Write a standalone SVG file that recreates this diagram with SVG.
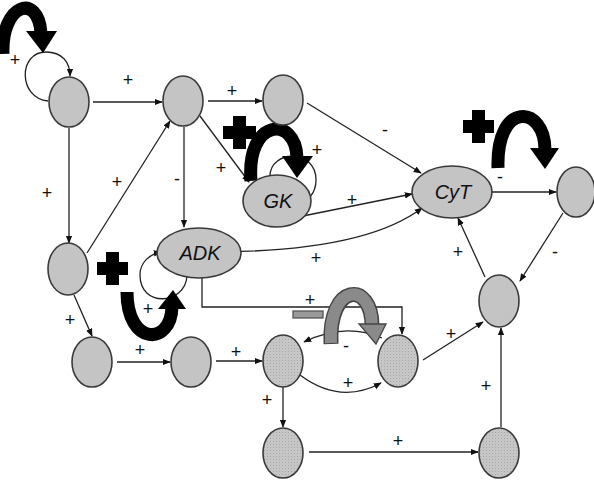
<svg xmlns="http://www.w3.org/2000/svg" width="594" height="489" viewBox="0 0 594 489">
<defs>
<marker id="ah" viewBox="0 0 10 10" refX="9" refY="5" markerWidth="8" markerHeight="8" markerUnits="userSpaceOnUse" orient="auto">
<path d="M0,1 L10,5 L0,9 z" fill="#111"/>
</marker>
<pattern id="dots" width="3" height="3" patternUnits="userSpaceOnUse">
<rect width="3" height="3" fill="#c6c6c6"/>
<rect width="1" height="1" fill="#a8a8a8"/>
</pattern>
</defs>
<style>
.n{fill:#c4c4c4;stroke:#3a3a3a;stroke-width:1.6}
.h{fill:url(#dots);stroke:#3a3a3a;stroke-width:1.6}
.c{fill:none;stroke:#222;stroke-width:1.3;marker-end:url(#ah)}
.s{font-family:"Liberation Sans",Arial,sans-serif;font-size:18px;fill:#111;text-anchor:middle}
.lab{font-family:"Liberation Sans",Arial,sans-serif;font-size:20px;font-style:italic;fill:#111;text-anchor:middle}
.big{fill:none;stroke:#000;stroke-width:13}
</style>
<g id="connectors">
<path class="c" d="M93,102 L162,102"/>
<path class="c" d="M208,101 L262,101"/>
<path class="c" d="M69,128 L69,243"/>
<path class="c" d="M87,253 L170,121"/>
<path class="c" d="M184,127 L184,227"/>
<path class="c" d="M200,116 L249,182"/>
<path class="c" d="M307,103 L421,173"/>
<path class="c" d="M288,219 L412,194"/>
<path class="c" d="M210,252 C300,252 380,240 422,208"/>
<path class="c" d="M466,192 L556,192"/>
<path class="c" d="M563,213 L520,281"/>
<path class="c" d="M485,277 L458,218"/>
<path class="c" d="M74,295 L92,336"/>
<path class="c" d="M117,362 L170,362"/>
<path class="c" d="M216,361 L262,361"/>
<path class="c" d="M202,270 L202,307 L402,307 L402,334"/>
<path class="c" d="M382,338 Q345,322 304,342"/>
<path class="c" d="M300,375 Q340,405 381,383"/>
<path class="c" d="M283,387 L283,427"/>
<path class="c" d="M309,452 L478,452"/>
<path class="c" d="M501,427 L501,328"/>
<path class="c" d="M423,360 L483,322"/>
<path class="c" d="M48,101 C18,98 18,52 46,52 C62,52 70,62 70,76"/>
<path class="c" d="M270,176 C270,150 316,148 316,180 C316,195 306,202 295,205"/>
<path class="c" d="M187,276 C185,305 140,308 140,275 C140,262 150,254 161,252"/>
</g>
<g id="modulators">
<path class="big" d="M3,54 C1,4 38,-8 41,33"/>
<polygon points="26,31 57,31 43,53" fill="#000"/>
<path class="big" d="M251,181 C246,118 296,115 297,158"/>
<polygon points="282,156 313,156 297,178" fill="#000"/>
<path class="big" d="M498,168 C496,100 545,105 545,150"/>
<polygon points="530,148 559,148 545,169" fill="#000"/>
<path class="big" d="M127,292 C127,346 171,346 172,307"/>
<polygon points="158,309 186,309 173,290" fill="#000"/>
<path d="M233,116 h13 v10 h10 v13 h-10 v10 h-13 v-10 h-10 v-13 h10 z" fill="#000"/>
<path d="M472,110 h13 v10 h9 v13 h-9 v10 h-13 v-10 h-9 v-13 h9 z" fill="#000"/>
<path d="M106,252 h13 v10 h9 v13 h-9 v10 h-13 v-10 h-9 v-13 h9 z" fill="#000"/>
<path d="M331,344 C328,283 372,280 372,326" fill="none" stroke="#444" stroke-width="15"/>
<path d="M331,343 C328,283 372,280 372,326" fill="none" stroke="#8a8a8a" stroke-width="12"/>
<polygon points="359,324 386,324 376,344" fill="#8a8a8a" stroke="#444" stroke-width="1.3"/>
<rect x="293" y="311" width="30" height="7" fill="#9a9a9a" stroke="#555" stroke-width="1.3"/>
</g>
<g id="n1"><ellipse class="n" cx="69" cy="102" rx="20" ry="25"/></g>
<g id="n2"><ellipse class="n" cx="183" cy="101" rx="20" ry="25"/></g>
<g id="n3"><ellipse class="n" cx="283" cy="100" rx="20" ry="25"/></g>
<g id="gk"><ellipse class="n" cx="277" cy="201" rx="34" ry="26"/><text class="lab" x="278" y="208">GK</text></g>
<g id="cyt"><ellipse class="n" cx="452" cy="192" rx="40" ry="26"/><text class="lab" x="453" y="199">CyT</text></g>
<g id="nr"><ellipse class="n" cx="576" cy="192" rx="19" ry="25"/></g>
<g id="nl2"><ellipse class="n" cx="68" cy="269" rx="20" ry="26"/></g>
<g id="adk"><ellipse class="n" cx="199" cy="253" rx="42" ry="25"/><text class="lab" x="200" y="260">ADK</text></g>
<g id="na"><ellipse class="n" cx="92" cy="362" rx="20" ry="25"/></g>
<g id="nb"><ellipse class="n" cx="191" cy="362" rx="20" ry="25"/></g>
<g id="nc"><ellipse class="h" cx="283" cy="361" rx="20" ry="26"/></g>
<g id="nd"><ellipse class="h" cx="398" cy="361" rx="20" ry="26"/></g>
<g id="ne"><ellipse class="n" cx="499" cy="301" rx="20" ry="26"/></g>
<g id="nf"><ellipse class="h" cx="283" cy="453" rx="20" ry="25"/></g>
<g id="ng"><ellipse class="h" cx="499" cy="453" rx="20" ry="25"/></g>
<g id="signs">
<text class="s" x="15" y="66">+</text>
<text class="s" x="128" y="86">+</text>
<text class="s" x="232" y="97">+</text>
<text class="s" x="47" y="199">+</text>
<text class="s" x="117" y="188">+</text>
<text class="s" x="177" y="185">-</text>
<text class="s" x="221" y="174">+</text>
<text class="s" x="317" y="156">+</text>
<text class="s" x="385" y="136">-</text>
<text class="s" x="352" y="206">+</text>
<text class="s" x="316" y="264">+</text>
<text class="s" x="500" y="183">-</text>
<text class="s" x="555" y="258">-</text>
<text class="s" x="458" y="258">+</text>
<text class="s" x="70" y="326">+</text>
<text class="s" x="148" y="315">+</text>
<text class="s" x="140" y="356">+</text>
<text class="s" x="236" y="358">+</text>
<text class="s" x="310" y="306">+</text>
<text class="s" x="346" y="352">-</text>
<text class="s" x="348" y="389">+</text>
<text class="s" x="267" y="406">+</text>
<text class="s" x="398" y="447">+</text>
<text class="s" x="486" y="392">+</text>
<text class="s" x="451" y="340">+</text>
</g>
</svg>
